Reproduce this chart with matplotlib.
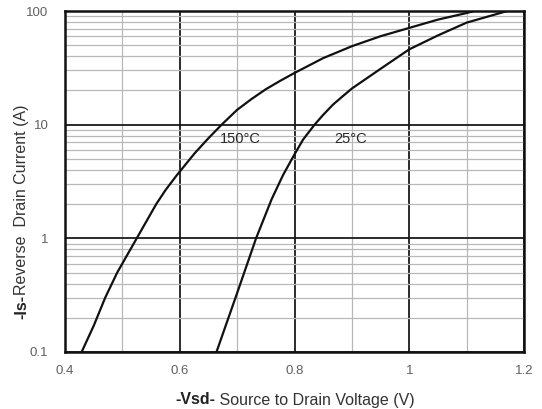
import matplotlib
matplotlib.use("Agg")
import matplotlib.pyplot as plt
from matplotlib.ticker import FixedLocator, NullFormatter, LogLocator

plt.rcParams['font.family'] = ['Liberation Sans', 'DejaVu Sans']

# Data
v_150 = [0.429, 0.450, 0.470, 0.491, 0.525, 0.559, 0.575, 0.595, 0.626, 0.650,
         0.673, 0.700, 0.725, 0.750, 0.775, 0.800, 0.850, 0.900, 0.950, 1.000,
         1.050, 1.100, 1.113]
i_150 = [0.1, 0.17, 0.30, 0.5, 1.0, 2.0, 2.65, 3.6, 5.6, 7.6,
         10, 13.5, 16.8, 20.5, 24.3, 28.5, 38.5, 49, 60, 71,
         84, 96, 100]
v_25 = [0.664, 0.700, 0.733, 0.760, 0.780, 0.798, 0.815, 0.835, 0.850, 0.867,
        0.883, 0.900, 0.950, 1.000, 1.050, 1.100, 1.171]
i_25 = [0.1, 0.33, 1.0, 2.2, 3.6, 5.26, 7.4, 10, 12.2, 15,
        17.6, 20.8, 31, 46, 61, 79, 100]

x_ticks = [0.4, 0.6, 0.8, 1.0, 1.2]
x_tick_labels = ["0.4", "0.6", "0.8", "1", "1.2"]
x_minor = [0.5, 0.7, 0.9, 1.1]
y_ticks = [0.1, 1, 10, 100]
y_tick_labels = ["0.1", "1", "10", "100"]
curve_labels = ["150°C", "25°C"]
label_pos = [(0.705, 7.5), (0.897, 7.5)]

W, H = 542, 409
fig = plt.figure(figsize=(W / 100, H / 100), dpi=100)
ax = fig.add_axes([65 / W, 1 - 352 / H, 459 / W, 341 / H])

ax.set_yscale('log')
ax.set_xlim(0.4, 1.2)
ax.set_ylim(0.1, 100)

ax.xaxis.set_major_locator(FixedLocator(x_ticks))
ax.xaxis.set_minor_locator(FixedLocator(x_minor))
ax.set_xticks(x_ticks, x_tick_labels)
ax.yaxis.set_major_locator(FixedLocator(y_ticks))
ax.yaxis.set_minor_locator(LogLocator(base=10, subs=range(2, 10)))
ax.yaxis.set_minor_formatter(NullFormatter())
ax.set_yticks(y_ticks, y_tick_labels)

ax.grid(True, which='minor', color='#b8b8b8', linewidth=0.9)
ax.grid(True, which='major', color='#1a1a1a', linewidth=1.3)
ax.set_axisbelow(True)

ax.tick_params(which='both', length=0)
ax.tick_params(axis='x', pad=9, labelsize=9.5, labelcolor='#606060')
ax.tick_params(axis='y', pad=12, labelsize=9.5, labelcolor='#606060')

for s in ax.spines.values():
    s.set_linewidth(1.8)
    s.set_color('#111111')

ax.plot(v_150, i_150, color='#111111', linewidth=1.6, solid_joinstyle='round')
ax.plot(v_25, i_25, color='#111111', linewidth=1.6, solid_joinstyle='round')

for txt, (xv, yv) in zip(curve_labels, label_pos):
    ax.text(xv, yv, txt, ha='center', va='center', fontsize=10.5, color='#2a2a2a')

# Axis labels with a bold prefix
fig.canvas.draw()
r = fig.canvas.get_renderer()
fs = 11.5
t1 = fig.text(0, 0, "-Vsd-", fontweight='bold', fontsize=fs, color='#222222',
              ha='left', va='center')
t2 = fig.text(0, 0, " Source to Drain Voltage (V)", fontsize=fs, color='#333333',
              ha='left', va='center')
w1 = t1.get_window_extent(r).width
w2 = t2.get_window_extent(r).width
x0 = 295 - (w1 + w2) / 2
yc = 1 - 400 / H
t1.set_position((x0 / W, yc))
t2.set_position(((x0 + w1) / W, yc))

u1 = fig.text(0, 0, "-Is-", fontweight='bold', fontsize=fs, color='#222222',
              ha='center', va='bottom', rotation=90)
u2 = fig.text(0, 0, "Reverse  Drain Current (A)", fontsize=fs, color='#333333',
              ha='center', va='bottom', rotation=90)
h1 = u1.get_window_extent(r).height
h2 = u2.get_window_extent(r).height
yc_pix = 212  # center, from top
ybot = (H - yc_pix) - (h1 + h2) / 2
xc = 22 / W
u1.set_position((xc, ybot / H))
u2.set_position((xc, (ybot + h1) / H))

fig.savefig("out.png", dpi=100)
